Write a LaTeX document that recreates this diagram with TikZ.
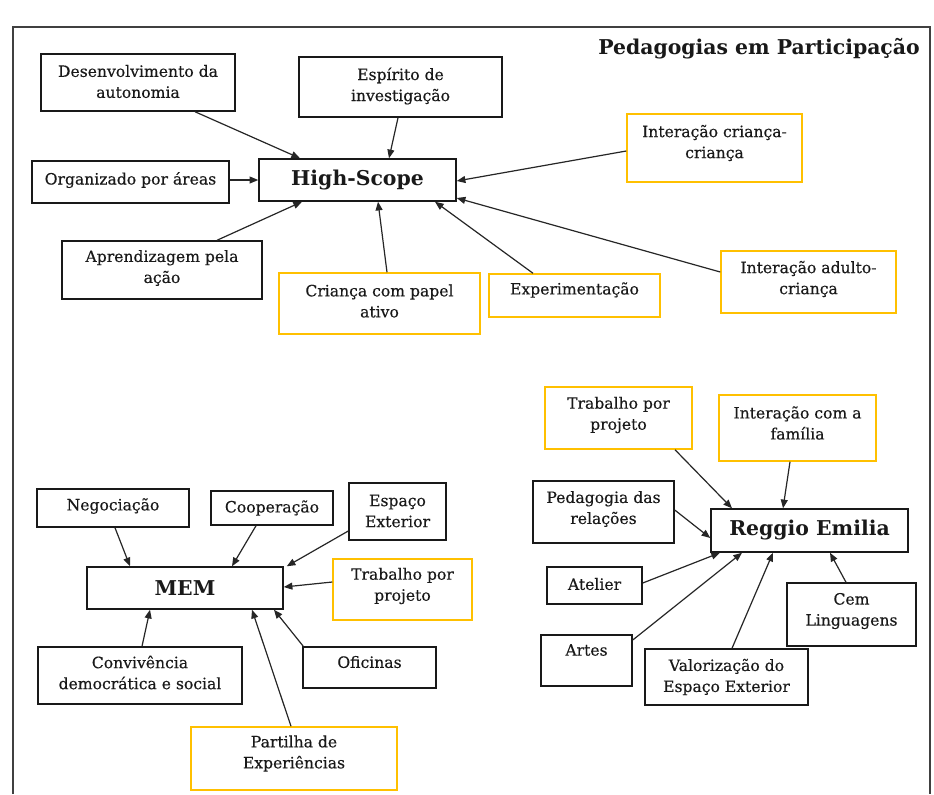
\documentclass[tikz,border=0pt]{standalone}
\usepackage{fontspec}
\setmainfont{DejaVu Serif}[FakeBold=0.35]
\newfontfamily\bigfont{DejaVu Serif}[BoldFont={DejaVu Serif Bold}]
\usetikzlibrary{arrows.meta,calc}
\definecolor{gold}{HTML}{FFC000}
\newcommand\bnode[8]{%
  \node[#1,minimum width=#5*0.75pt,minimum height=#6*0.75pt] (#2) at (#3,#4) {};
  \node[txt] (#2t) at (#3,#7) {#8};}
\begin{document}
\begin{tikzpicture}[x=0.75pt,y=-0.75pt,
  bx/.style={draw=black!90, line width=1.1pt, inner sep=0pt, rectangle},
  yb/.style={bx, draw=gold},
  txt/.style={align=center, font=\fontsize{11.7}{15.75}\selectfont, inner sep=0pt, text=black!90},
  big/.style={font=\bigfont\fontsize{15.3}{18}\selectfont\bfseries, inner sep=0pt, text=black!90},
  arr/.style={-{Triangle[length=6.5pt,width=5.2pt]}, line width=0.9pt, draw=black!85}]

\useasboundingbox (0,0) rectangle (934,794);
\fill[white] (0,0) rectangle (934,794);
\draw[line width=1.2pt, black!75] (13,794) -- (13,27) -- (930,27) -- (930,794);

\node[big, anchor=base east] (title) at (920,54) {Pedagogias em Participação};

% High-Scope
\node[bx, minimum width=197*0.75pt, minimum height=42*0.75pt] (hs) at (357.5,180) {};
\node[big] (hst) at (357.5,180) {High-Scope};
\bnode{bx}{des}{138}{82.5}{194}{57}{81.5}{Desenvolvimento da\\autonomia}
\bnode{bx}{esp}{400.5}{87}{203}{60}{86}{Espírito de\\investigação}
\bnode{bx}{org}{130.5}{182}{197}{42}{180}{Organizado por áreas}
\bnode{yb}{icc}{714.5}{148}{175}{68}{143}{Interação criança-\\criança}
\bnode{bx}{apr}{162}{270}{200}{58}{268}{Aprendizagem pela\\ação}
\bnode{yb}{cpa}{379.5}{303.5}{201}{61}{301}{Criança com papel\\ativo}
\bnode{yb}{exp}{574.5}{295.5}{171}{43}{290}{Experimentação}
\bnode{yb}{iac}{808.5}{282}{175}{62}{279}{Interação adulto-\\criança}

\draw[arr] ($(des.south)+(57,0)$) -- ($(hs.north)+(-57.5,0)$);
\draw[arr] ($(esp.south)+(-2.5,0)$) -- ($(hs.north)+(31.5,0)$);
\draw[arr] ($(org.east)+(0,-2)$) -- ($(hs.west)+(0,0)$);
\draw[arr] ($(icc.west)+(0,3)$) -- ($(hs.east)+(0,1)$);
\draw[arr] ($(apr.north)+(55,0)$) -- ($(hs.south)+(-55.5,0)$);
\draw[arr] ($(cpa.north)+(7.5,0)$) -- ($(hs.south)+(20.5,0)$);
\draw[arr] ($(exp.north)+(-41.5,0)$) -- ($(hs.south)+(77.5,0)$);
\draw[arr] ($(iac.west)+(0,-10)$) -- ($(hs.east)+(0,18)$);

% MEM
\node[bx, minimum width=196*0.75pt, minimum height=42*0.75pt] (mem) at (185,588) {};
\node[big] (memt) at (185,588) {MEM};
\bnode{bx}{neg}{113}{508}{152}{38}{506}{Negociação}
\bnode{bx}{coo}{272}{508}{122}{34}{508}{Cooperação}
\bnode{bx}{ext}{397.5}{511.5}{97}{57}{511}{Espaço\\Exterior}
\bnode{yb}{tpm}{402.5}{589.5}{139}{61}{586}{Trabalho por\\projeto}
\bnode{bx}{con}{140}{675.5}{204}{57}{672.5}{Convivência\\democrática e social}
\bnode{bx}{ofi}{369.5}{667.5}{133}{41}{662}{Oficinas}
\bnode{yb}{par}{294}{758.5}{206}{63}{753.5}{Partilha de\\Experiências}

\draw[arr] ($(neg.south)+(2,0)$) -- ($(mem.north)+(-55,0)$);
\draw[arr] ($(coo.south)+(-16,0)$) -- ($(mem.north)+(47,0)$);
\draw[arr] ($(ext.west)+(0,19.5)$) -- ($(mem.north east)+(3,0)$);
\draw[arr] ($(tpm.west)+(0,-7.5)$) -- ($(mem.east)+(0,-1)$);
\draw[arr] ($(ofi.north west)+(1,0)$) -- ($(mem.south)+(89,0)$);
\draw[arr] ($(par.north)+(-3,0)$) -- ($(mem.south)+(67,0)$);
\draw[arr] ($(con.north)+(2,0)$) -- ($(mem.south)+(-35,0)$);

% Reggio Emilia
\node[bx, minimum width=197*0.75pt, minimum height=43*0.75pt] (re) at (809.5,530.5) {};
\node[big] (ret) at (809.5,530.5) {Reggio Emilia};
\bnode{yb}{tpr}{618.5}{418}{147}{62}{415}{Trabalho por\\projeto}
\bnode{yb}{ifa}{797.5}{428}{157}{66}{423}{Interação com a\\família}
\bnode{bx}{ped}{603.5}{512}{141}{62}{509}{Pedagogia das\\relações}
\bnode{bx}{ate}{594.5}{585.5}{95}{37}{584}{Atelier}
\bnode{bx}{art}{586.5}{660.5}{91}{51}{650}{Artes}
\bnode{bx}{val}{726.5}{677}{163}{56}{677}{Valorização do\\Espaço Exterior}
\bnode{bx}{cem}{851.5}{614.5}{129}{63}{611}{Cem\\Linguagens}

\draw[arr] ($(tpr.south)+(56.5,0)$) -- ($(re.north)+(-77.5,0)$);
\draw[arr] ($(ifa.south)+(-7.5,0)$) -- ($(re.north)+(-26.5,0)$);
\draw[arr] ($(ped.east)+(0,-2)$) -- ($(re.west)+(0,7.5)$);
\draw[arr] ($(ate.east)+(0,-2.5)$) -- ($(re.south)+(-89.5,0)$);
\draw[arr] ($(art.east)+(0,-20.5)$) -- ($(re.south)+(-67.5,0)$);
\draw[arr] ($(val.north)+(5.5,0)$) -- ($(re.south)+(-36.5,0)$);
\draw[arr] ($(cem.north)+(-5.5,0)$) -- ($(re.south)+(20.5,0)$);
\end{tikzpicture}
\end{document}
